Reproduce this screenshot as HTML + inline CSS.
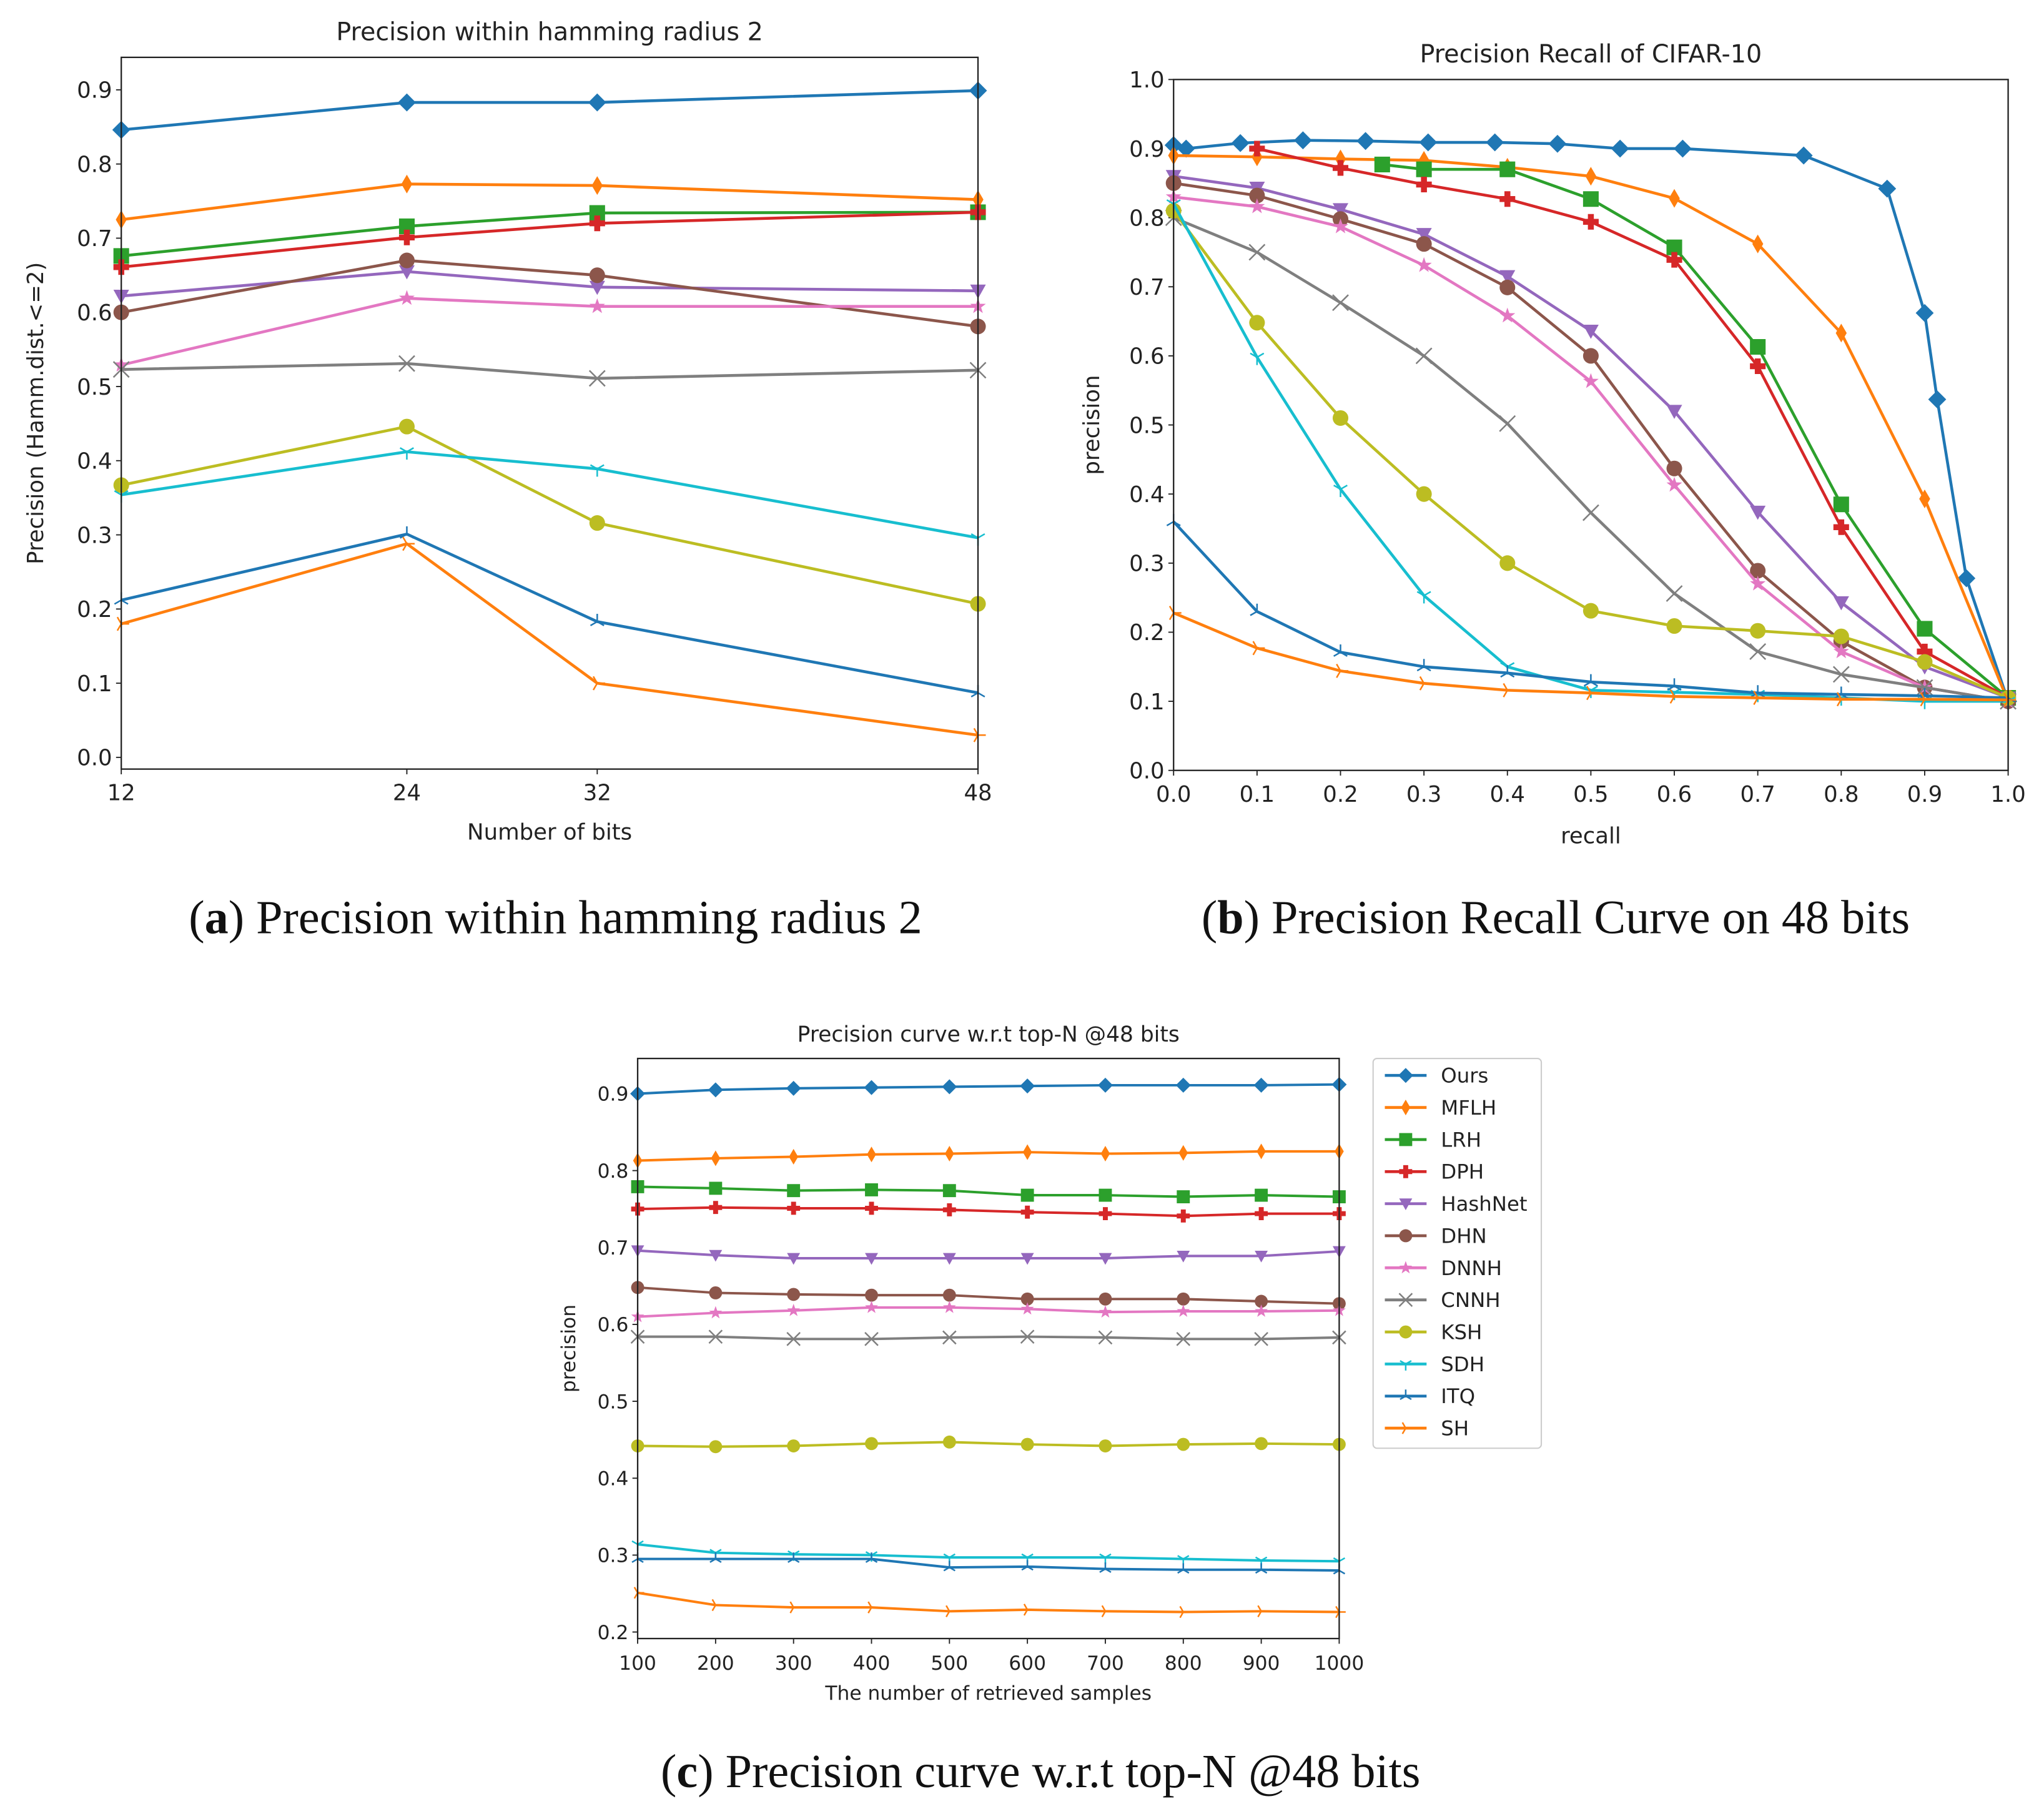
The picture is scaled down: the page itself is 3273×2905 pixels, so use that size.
<!DOCTYPE html>
<html><head><meta charset="utf-8">
<style>
html,body{margin:0;padding:0;background:#fff;}
svg{display:block;}
text{font-family:"DejaVu Sans","Liberation Sans",sans-serif;fill:#222;}
.cap{font-family:"Liberation Serif",serif;fill:#111;}
</style></head>
<body>
<svg id="root" width="3273" height="2905" viewBox="0 0 1567.5 1391.6" preserveAspectRatio="none" xmlns="http://www.w3.org/2000/svg">
<rect x="0" y="0" width="1568" height="1392" fill="#fff"/>
<text class="cap" x="426" y="716" font-size="36.5" text-anchor="middle">(<tspan font-weight="bold">a</tspan>) Precision within hamming radius 2</text>
<text class="cap" x="1193" y="716" font-size="36.5" text-anchor="middle">(<tspan font-weight="bold">b</tspan>) Precision Recall Curve on 48 bits</text>
<text class="cap" x="798" y="1371" font-size="36.5" text-anchor="middle">(<tspan font-weight="bold">c</tspan>) Precision curve w.r.t top-N @48 bits</text>
</svg>
<script>
// ---------- data ----------
const seriesNames = ["Ours","MFLH","LRH","DPH","HashNet","DHN","DNNH","CNNH","KSH","SDH","ITQ","SH"];
const seriesColors = ["#1f77b4","#ff7f0e","#2ca02c","#d62728","#9467bd","#8c564b","#e377c2","#7f7f7f","#bcbd22","#17becf","#1f77b4","#ff7f0e"];
const seriesMarkers = ["D","d","s","P","v","o","*","x","o","1","2","3"];

// Chart A: precision within hamming radius 2
const bitsA = [12,24,32,48];
const aOurs = [0.846,0.883,0.883,0.899];
const aMFLH = [0.725,0.773,0.771,0.752];
const aLRH = [0.676,0.716,0.734,0.735];
const aDPH = [0.661,0.701,0.720,0.735];
const aHashNet = [0.622,0.655,0.634,0.629];
const aDHN = [0.600,0.670,0.650,0.581];
const aDNNH = [0.529,0.619,0.608,0.608];
const aCNNH = [0.523,0.531,0.511,0.522];
const aKSH = [0.367,0.446,0.316,0.207];
const aSDH = [0.354,0.412,0.389,0.296];
const aITQ = [0.212,0.301,0.183,0.087];
const aSH = [0.180,0.288,0.100,0.030];
const aXTicks = ["12","24","32","48"];
const aYTicks = ["0.0","0.1","0.2","0.3","0.4","0.5","0.6","0.7","0.8","0.9"];

// Chart B: precision-recall
const recallStd = [0,0.1,0.2,0.3,0.4,0.5,0.6,0.7,0.8,0.9,1.0];
const bOursX = [0,0.015,0.08,0.155,0.23,0.305,0.385,0.46,0.535,0.61,0.755,0.855,0.9,0.915,0.95,1.0];
const bOurs = [0.905,0.90,0.908,0.912,0.911,0.909,0.909,0.907,0.90,0.90,0.89,0.842,0.662,0.537,0.278,0.10];
const bMFLH = [0.89,0.888,0.885,0.883,0.873,0.86,0.828,0.762,0.633,0.393,0.10];
const bLRHX = [0.25,0.3,0.4,0.5,0.6,0.7,0.8,0.9,1.0];
const bLRH = [0.877,0.870,0.870,0.827,0.757,0.613,0.385,0.205,0.105];
const bDPHX = [0.1,0.2,0.3,0.4,0.5,0.6,0.7,0.8,0.9,1.0];
const bDPH = [0.90,0.872,0.848,0.827,0.794,0.739,0.585,0.352,0.172,0.105];
const bHashNet = [0.86,0.843,0.812,0.776,0.715,0.636,0.52,0.374,0.243,0.15,0.105];
const bDHN = [0.85,0.832,0.798,0.762,0.699,0.60,0.437,0.289,0.187,0.12,0.10];
const bDNNH = [0.83,0.816,0.787,0.731,0.658,0.563,0.413,0.27,0.172,0.12,0.10];
const bCNNH = [0.80,0.75,0.677,0.60,0.502,0.373,0.256,0.172,0.139,0.12,0.10];
const bKSH = [0.81,0.648,0.51,0.40,0.30,0.231,0.209,0.202,0.194,0.157,0.105];
const bSDH = [0.82,0.598,0.407,0.253,0.15,0.116,0.113,0.11,0.105,0.10,0.10];
const bITQ = [0.36,0.23,0.171,0.15,0.141,0.128,0.122,0.112,0.11,0.108,0.105];
const bSH = [0.228,0.177,0.144,0.126,0.116,0.112,0.107,0.105,0.103,0.103,0.102];
const bXTicks = ["0.0","0.1","0.2","0.3","0.4","0.5","0.6","0.7","0.8","0.9","1.0"];
const bYTicks = ["0.0","0.1","0.2","0.3","0.4","0.5","0.6","0.7","0.8","0.9","1.0"];

// Chart C: precision w.r.t. top-N
const topN = [100,200,300,400,500,600,700,800,900,1000];
const cOurs = [0.90,0.905,0.907,0.908,0.909,0.910,0.911,0.911,0.911,0.912];
const cMFLH = [0.813,0.816,0.818,0.821,0.822,0.824,0.822,0.823,0.825,0.825];
const cLRH = [0.779,0.777,0.774,0.775,0.774,0.768,0.768,0.766,0.768,0.766];
const cDPH = [0.750,0.752,0.751,0.751,0.749,0.746,0.744,0.741,0.744,0.744];
const cHashNet = [0.696,0.690,0.686,0.686,0.686,0.686,0.686,0.689,0.689,0.695];
const cDHN = [0.648,0.641,0.639,0.638,0.638,0.633,0.633,0.633,0.630,0.627];
const cDNNH = [0.610,0.615,0.618,0.622,0.622,0.620,0.616,0.617,0.617,0.618];
const cCNNH = [0.584,0.584,0.581,0.581,0.583,0.584,0.583,0.581,0.581,0.583];
const cKSH = [0.442,0.441,0.442,0.445,0.447,0.444,0.442,0.444,0.445,0.444];
const cSDH = [0.314,0.303,0.301,0.300,0.297,0.297,0.297,0.295,0.293,0.292];
const cITQ = [0.295,0.295,0.295,0.295,0.284,0.285,0.282,0.281,0.281,0.280];
const cSH = [0.251,0.235,0.232,0.232,0.227,0.229,0.227,0.226,0.227,0.226];
const cXTicks = ["100","200","300","400","500","600","700","800","900","1000"];
const cYTicks = ["0.2","0.3","0.4","0.5","0.6","0.7","0.8","0.9"];

// ---------- drawing ----------
const NS = "http://www.w3.org/2000/svg";
const root = document.getElementById("root");
function mk(tag, attrs, parent){
  const e = document.createElementNS(NS, tag);
  for (const k in attrs) e.setAttribute(k, attrs[k]);
  (parent||root).appendChild(e);
  return e;
}
function markerPath(type, x, y, s){
  const h = s/2;
  switch(type){
    case "D": return `M${x},${y-h*1.15}L${x+h*1.15},${y}L${x},${y+h*1.15}L${x-h*1.15},${y}Z`;
    case "d": return `M${x},${y-h*1.2}L${x+h*0.7},${y}L${x},${y+h*1.2}L${x-h*0.7},${y}Z`;
    case "s": return `M${x-h},${y-h}h${s}v${s}h${-s}Z`;
    case "P": { const t=h*0.38; return `M${x-t},${y-h}h${2*t}v${h-t}h${h-t}v${2*t}h${-(h-t)}v${h-t}h${-2*t}v${-(h-t)}h${-(h-t)}v${-2*t}h${h-t}Z`; }
    case "v": return `M${x-h},${y-h*0.8}L${x+h},${y-h*0.8}L${x},${y+h}Z`;
    case "*": { let p=""; for(let i=0;i<10;i++){const r=i%2?h*0.42:h*1.05; const a=-Math.PI/2+i*Math.PI/5; p+=(i?"L":"M")+(x+r*Math.cos(a)).toFixed(2)+","+(y+r*Math.sin(a)).toFixed(2);} return p+"Z"; }
  }
  return "";
}
function drawMarker(g, type, x, y, s, color){
  if (type === "o") { mk("circle",{cx:x,cy:y,r:s/2,fill:color},g); return; }
  if (type === "x") { const h=s/2; mk("path",{d:`M${x-h},${y-h}L${x+h},${y+h}M${x-h},${y+h}L${x+h},${y-h}`,stroke:color,"stroke-width":1.2,fill:"none"},g); return; }
  if (type === "1" || type === "2" || type === "3") {
    const h=s/2; const off = type==="1"?90:(type==="2"?-90:0);
    let d="";
    for (let i=0;i<3;i++){ const a=(off+i*120)*Math.PI/180; d+=`M${x},${y}L${(x+h*Math.cos(a)).toFixed(2)},${(y+h*Math.sin(a)).toFixed(2)}`; }
    mk("path",{d:d,stroke:color,"stroke-width":1.2,fill:"none"},g); return;
  }
  mk("path",{d:markerPath(type,x,y,s),fill:color},g);
}
function drawChart(cfg){
  const g = mk("g",{});
  
  
  const sx = v => cfg.L + (v-cfg.xmin)/(cfg.xmax-cfg.xmin)*(cfg.R-cfg.L);
  const sy = v => cfg.B - (v-cfg.ymin)/(cfg.ymax-cfg.ymin)*(cfg.B-cfg.T);
  cfg.xTicks.forEach(t => {
    const x = sx(parseFloat(t));
    mk("line",{x1:x,x2:x,y1:cfg.B,y2:cfg.B+4,stroke:"#222","stroke-width":0.9},g);
    const tx = mk("text",{x:x,y:cfg.B+24,"font-size":cfg.fs,"text-anchor":"middle"},g);
    tx.textContent = t;
    
    
  });
  cfg.yTicks.forEach(t => {
    const y = sy(parseFloat(t));
    mk("line",{x1:cfg.L-4,x2:cfg.L,y1:y,y2:y,stroke:"#222","stroke-width":0.9},g);
    const tx = mk("text",{x:cfg.L-7,y:y+cfg.fs*0.36,"font-size":cfg.fs,"text-anchor":"end"},g);
    tx.textContent = t;
    
    
  });
  const cid = cfg.name+"-clip";
  const cp = mk("clipPath",{id:cid},g);
  mk("rect",{x:cfg.L-8,y:cfg.T-8,width:cfg.R-cfg.L+16,height:cfg.B-cfg.T+16},cp);
  const pg = mk("g",{"clip-path":`url(#${cid})`},g);
  cfg.series.forEach((s,i) => {
    const sg = mk("g",{},pg);
    
    
    const xs = s.x, ys = s.y;
    let d = "";
    for (let k=0;k<ys.length;k++) d += (k?"L":"M")+sx(xs[k]).toFixed(2)+","+sy(ys[k]).toFixed(2);
    mk("path",{d:d,stroke:seriesColors[i],"stroke-width":cfg.lw,fill:"none","stroke-linejoin":"round"},sg);
    for (let k=0;k<ys.length;k++) drawMarker(sg, seriesMarkers[i], sx(xs[k]), sy(ys[k]), cfg.ms, seriesColors[i]);
  });
  const fr = mk("rect",{x:cfg.L,y:cfg.T,width:cfg.R-cfg.L,height:cfg.B-cfg.T,fill:"none",stroke:"#222","stroke-width":1.1},g);
  
  
  const ti = mk("text",{x:(cfg.L+cfg.R)/2,y:cfg.T-13,"font-size":cfg.tfs,"text-anchor":"middle"},g);
  ti.textContent = cfg.title;
  
  
  const xl = mk("text",{x:(cfg.L+cfg.R)/2,y:cfg.B+cfg.xlOff,"font-size":cfg.lfs,"text-anchor":"middle"},g);
  xl.textContent = cfg.xlabel;
  
  
  const yx = cfg.ylX, yy = (cfg.T+cfg.B)/2;
  const yl = mk("text",{x:yx,y:yy,"font-size":cfg.lfs,"text-anchor":"middle",transform:`rotate(-90 ${yx} ${yy})`},g);
  yl.textContent = cfg.ylabel;
  
  
}

const aY = [aOurs,aMFLH,aLRH,aDPH,aHashNet,aDHN,aDNNH,aCNNH,aKSH,aSDH,aITQ,aSH];
drawChart({name:"chart-hamming-radius",L:93,R:750,T:44,B:590,xmin:12,xmax:48,ymin:-0.0158,ymax:0.9438,
  xTicks:aXTicks,yTicks:aYTicks,fs:17,tfs:19,lfs:17,lw:2.2,ms:12,xlOff:54,ylX:33,
  title:"Precision within hamming radius 2",xlabel:"Number of bits",ylabel:"Precision (Hamm.dist.<=2)",
  series:aY.map(y=>({x:bitsA,y:y}))});

const bSeries = [
  {x:bOursX,y:bOurs},{x:recallStd,y:bMFLH},{x:bLRHX,y:bLRH},{x:bDPHX,y:bDPH},
  {x:recallStd,y:bHashNet},{x:recallStd,y:bDHN},{x:recallStd,y:bDNNH},{x:recallStd,y:bCNNH},
  {x:recallStd,y:bKSH},{x:recallStd,y:bSDH},{x:recallStd,y:bITQ},{x:recallStd,y:bSH}];
drawChart({name:"chart-precision-recall",L:900,R:1540,T:61,B:591,xmin:0,xmax:1,ymin:0,ymax:1,
  xTicks:bXTicks,yTicks:bYTicks,fs:17,tfs:19,lfs:17,lw:2.2,ms:12,xlOff:56,ylX:843,
  title:"Precision Recall of CIFAR-10",xlabel:"recall",ylabel:"precision",series:bSeries});

const cY = [cOurs,cMFLH,cLRH,cDPH,cHashNet,cDHN,cDNNH,cCNNH,cKSH,cSDH,cITQ,cSH];
drawChart({name:"chart-top-n",L:489,R:1027,T:812,B:1257,xmin:100,xmax:1000,ymin:0.1915,ymax:0.9458,
  xTicks:cXTicks,yTicks:cYTicks,fs:15,tfs:16.5,lfs:15,lw:1.9,ms:10,xlOff:47,ylX:441,
  title:"Precision curve w.r.t top-N @48 bits",xlabel:"The number of retrieved samples",ylabel:"precision",
  series:cY.map(y=>({x:topN,y:y}))});

const lg = mk("g",{});


mk("rect",{x:1053,y:812,width:129,height:299,rx:3,fill:"#fff",stroke:"#ccc","stroke-width":1},lg);
seriesNames.forEach((n,i) => {
  const y = 825 + i*24.6;
  const eg = mk("g",{},lg);
  
  
  mk("line",{x1:1062,x2:1094,y1:y,y2:y,stroke:seriesColors[i],"stroke-width":2.2},eg);
  drawMarker(eg, seriesMarkers[i], 1078, y, 10, seriesColors[i]);
  const t = mk("text",{x:1105,y:y+5.5,"font-size":15.5},eg);
  t.textContent = n;
});
</script>
</body></html>
